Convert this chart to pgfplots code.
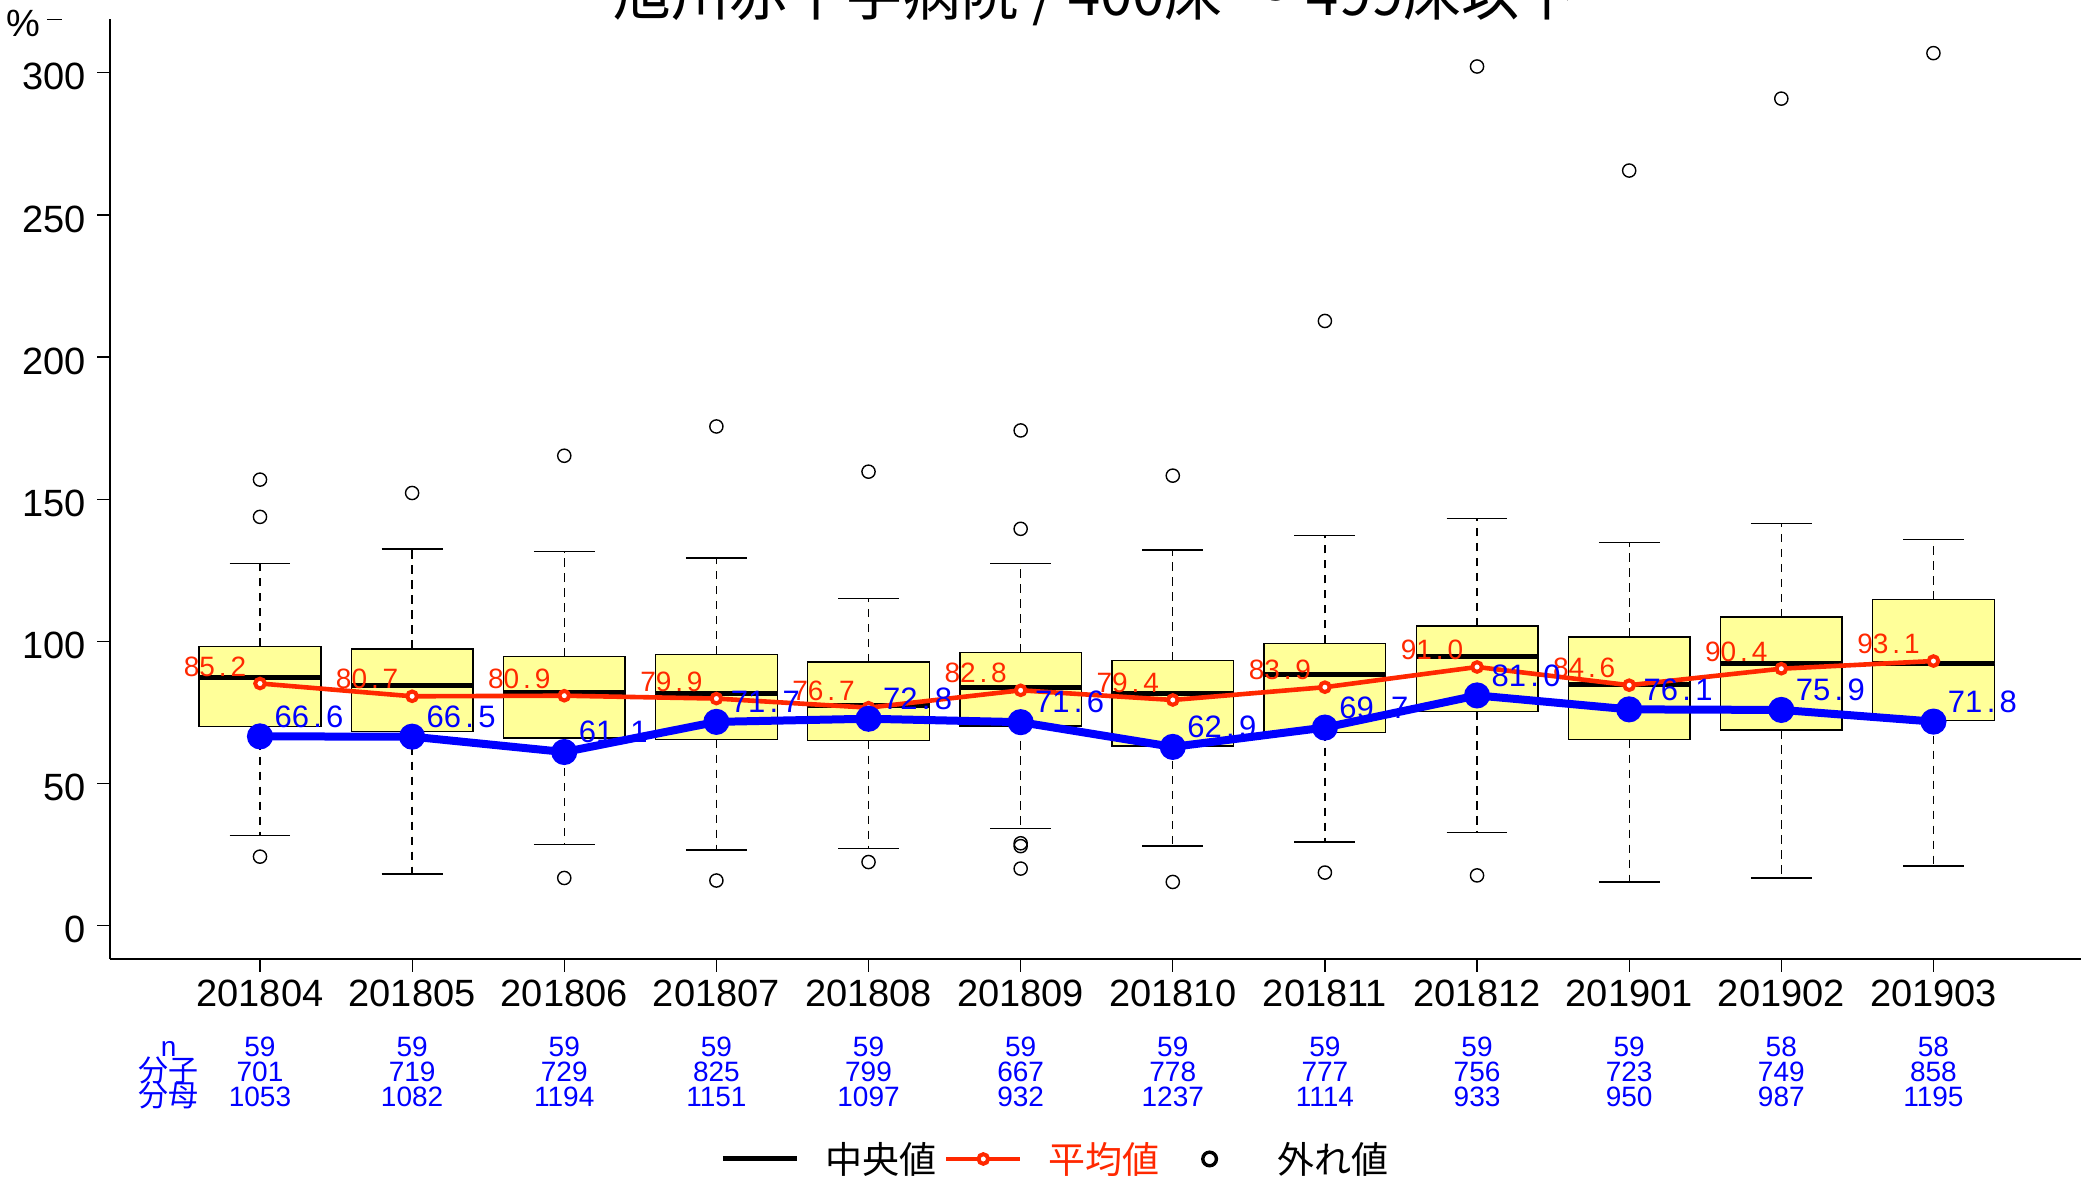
\documentclass[border=0pt]{standalone}
\usepackage{pgfplots}
\pgfplotsset{compat=1.18}
\usepgfplotslibrary{statistics}
\usepackage{fontspec}
\setmainfont{Liberation Sans}
\newfontfamily\jp{Noto Sans CJK JP}
\definecolor{myred}{RGB}{255,40,0}
\definecolor{myblue}{RGB}{0,0,255}
\definecolor{boxyellow}{RGB}{255,255,153}
\newcommand{\dg}[2]{#1\makebox[0.556em]{.}#2}
\newcommand{\tblfont}{\fontsize{14}{14}\selectfont}
\newcommand{\tcol}[4]{%
 \node[font=\tblfont, text=myblue, anchor=base, inner sep=0pt] at (axis cs:#1,-11.7) [yshift=-48.9pt] {#2};
 \node[font=\tblfont, text=myblue, anchor=base, inner sep=0pt] at (axis cs:#1,-11.7) [yshift=-61.4pt] {#3};
 \node[font=\tblfont, text=myblue, anchor=base, inner sep=0pt] at (axis cs:#1,-11.7) [yshift=-73.9pt] {#4};
}
\pgfplotsset{
 rbox/.style={
   boxplot/draw direction=y,
   draw=black, fill=boxyellow, line width=0.7pt, solid, forget plot,
   mark=o, mark size=3.3pt, mark options={solid, line width=0.7pt, draw=black, fill=none},
   boxplot/every median/.style={line width=2.5pt},
   boxplot/draw/lower whisker/.code={%
     \draw[line width=0.65pt, dash pattern=on 4.2pt off 3.3pt]
       (boxplot box cs:\pgfplotsboxplotvalue{lower quartile},0.5) --
       (boxplot box cs:\pgfplotsboxplotvalue{lower whisker},0.5);
     \draw[line width=0.65pt, solid]
       (boxplot whisker cs:\pgfplotsboxplotvalue{lower whisker},0) --
       (boxplot whisker cs:\pgfplotsboxplotvalue{lower whisker},1);
   },
   boxplot/draw/upper whisker/.code={%
     \draw[line width=0.65pt, dash pattern=on 4.2pt off 3.3pt]
       (boxplot box cs:\pgfplotsboxplotvalue{upper quartile},0.5) --
       (boxplot box cs:\pgfplotsboxplotvalue{upper whisker},0.5);
     \draw[line width=0.65pt, solid]
       (boxplot whisker cs:\pgfplotsboxplotvalue{upper whisker},0) --
       (boxplot whisker cs:\pgfplotsboxplotvalue{upper whisker},1);
   },
 },
}
\newcommand{\bx}[6]{%
 \addplot[rbox, boxplot prepared={draw position=#1, lower whisker=#2, lower quartile=#3, median=#4, upper quartile=#5, upper whisker=#6, box extend=0.8, whisker extend=0.4}]
}
\begin{document}
\begin{tikzpicture}
\begin{axis}[
  at={(0,0)}, anchor=south west,
  scale only axis, width=985.5pt, height=469.85pt,
  xmin=-0.986, xmax=11.97, ymin=-11.7, ymax=318.8,
  clip=false,
  axis x line*=bottom, axis y line*=left,
  axis line style={black, line width=0.8pt, -},
  tick align=outside, major tick length=6.3pt,
  tick style={black, line width=0.6pt},
  xtick={0,1,2,3,4,5,6,7,8,9,10,11},
  xticklabels={201804,201805,201806,201807,201808,201809,201810,201811,201812,201901,201902,201903},
  ytick={0,50,100,150,200,250,300},
  /pgf/number format/assume math mode=true,
  xticklabel style={font=\fontsize{19}{20}\selectfont, inner sep=0pt, yshift=-4.2pt},
  yticklabel style={font=\fontsize{19}{20}\selectfont, inner sep=0pt, xshift=-5.7pt, yshift=-2pt},
  legend columns=3,
  legend cell align=left,
  legend style={at={(0.3095,-0.2128)}, anchor=west, draw=none, fill=none, inner sep=0pt,
    nodes={inner sep=0pt, font=\jp\fontsize{18.5}{20}\selectfont},
    /tikz/every odd column/.append style={column sep=13pt},
    /tikz/every even column/.append style={column sep=3.8pt}},
]
\addlegendimage{legend image code/.code={\draw[black, line width=2.5pt] (0pt,0pt) -- (37pt,0pt);}}
\addlegendentry{中央値}
\addlegendimage{legend image code/.code={\draw[myred, line width=2.3pt] (0pt,0pt) -- (37pt,0pt); \draw[myred, line width=2pt, fill=white] (18.5pt,0pt) circle (2.4pt);}}
\addlegendentry{\textcolor{myred}{平均値}}
\addlegendimage{legend image code/.code={\path[draw=none, fill=none] (0pt,0pt) -- (42.3pt,0pt); \draw[black, line width=1.7pt, fill=none] (21.2pt,0pt) circle (3.4pt);}}
\addlegendentry{外れ値}

\bx{0}{31.8}{70.0}{87.3}{98.3}{127.4} coordinates {(0,156.9) (0,143.8) (0,24.3)};
\bx{1}{18.2}{68.3}{84.5}{97.4}{132.5} coordinates {(1,152.2)};
\bx{2}{28.5}{66.0}{82.2}{94.6}{131.6} coordinates {(2,165.3) (2,16.8)};
\bx{3}{26.6}{65.5}{81.6}{95.5}{129.3} coordinates {(3,175.6) (3,15.9)};
\bx{4}{27.1}{65.1}{77.4}{92.7}{115.2} coordinates {(4,159.7) (4,22.4)};
\bx{5}{34.1}{70.2}{83.7}{96.0}{127.4} coordinates {(5,174.2) (5,139.6) (5,29.0) (5,28.0) (5,20.1)};
\bx{6}{28.0}{63.2}{81.8}{93.2}{132.1} coordinates {(6,158.3) (6,15.4)};
\bx{7}{29.4}{67.9}{88.5}{99.3}{137.2} coordinates {(7,212.7) (7,18.7)};
\bx{8}{32.7}{75.4}{94.8}{105.4}{143.3} coordinates {(8,302.2) (8,17.7)};
\bx{9}{15.4}{65.5}{84.7}{101.6}{134.9} coordinates {(9,265.6)};
\bx{10}{16.8}{68.8}{92.1}{108.6}{141.4} coordinates {(10,290.9)};
\bx{11}{21.0}{72.1}{92.2}{114.7}{135.8} coordinates {(11,306.9)};

\addplot[myred, line width=2.3pt, forget plot, mark=*, mark size=2.4pt,
  mark options={fill=white, draw=myred, line width=2pt},
  nodes near coords, point meta=explicit symbolic,
  nodes near coords style={font=\fontsize{14}{14}\selectfont, text=myred, anchor=center, xshift=-22.5pt, yshift=8.5pt}]
coordinates {(0,85.2)[\dg{85}{2}] (1,80.7)[\dg{80}{7}] (2,80.9)[\dg{80}{9}] (3,79.9)[\dg{79}{9}]
 (4,76.7)[\dg{76}{7}] (5,82.8)[\dg{82}{8}] (6,79.4)[\dg{79}{4}] (7,83.9)[\dg{83}{9}]
 (8,91.0)[\dg{91}{0}] (9,84.6)[\dg{84}{6}] (10,90.4)[\dg{90}{4}] (11,93.1)[\dg{93}{1}]};

\addplot[myblue, line width=4pt, forget plot, mark=*, mark size=4.5pt,
  mark options={fill=myblue, draw=none},
  nodes near coords, point meta=explicit symbolic,
  nodes near coords style={font=\fontsize{15.5}{16}\selectfont, text=myblue, anchor=center, xshift=24.5pt, yshift=10pt}]
coordinates {(0,66.6)[\dg{66}{6}] (1,66.5)[\dg{66}{5}] (2,61.1)[\dg{61}{1}] (3,71.7)[\dg{71}{7}]
 (4,72.8)[\dg{72}{8}] (5,71.6)[\dg{71}{6}] (6,62.9)[\dg{62}{9}] (7,69.7)[\dg{69}{7}]
 (8,81.0)[\dg{81}{0}] (9,76.1)[\dg{76}{1}] (10,75.9)[\dg{75}{9}] (11,71.8)[\dg{71}{8}]};

\tcol{0}{59}{701}{1053}
\tcol{1}{59}{719}{1082}
\tcol{2}{59}{729}{1194}
\tcol{3}{59}{825}{1151}
\tcol{4}{59}{799}{1097}
\tcol{5}{59}{667}{932}
\tcol{6}{59}{778}{1237}
\tcol{7}{59}{777}{1114}
\tcol{8}{59}{756}{933}
\tcol{9}{59}{723}{950}
\tcol{10}{58}{749}{987}
\tcol{11}{58}{858}{1195}
\node[font=\tblfont, text=myblue, anchor=base, inner sep=0pt] at (axis cs:-0.6,-11.7) [yshift=-48.9pt] {n};
\node[font=\jp\fontsize{15}{15}\selectfont, text=myblue, anchor=base, inner sep=0pt] at (axis cs:-0.6,-11.7) [yshift=-61.4pt] {分子};
\node[font=\jp\fontsize{15}{15}\selectfont, text=myblue, anchor=base, inner sep=0pt] at (axis cs:-0.6,-11.7) [yshift=-73.9pt] {分母};

\node[font=\jp\fontsize{29}{30}\selectfont, anchor=base, inner sep=0pt] at (rel axis cs:0.5,1) [yshift=2pt] {旭川赤十字病院 / 400床 ～ 499床以下};
\node[font=\fontsize{19}{20}\selectfont, anchor=center, inner sep=0pt] at (rel axis cs:0,1) [xshift=-43.5pt, yshift=-2.3pt] {\%};
\draw[line width=0.7pt] ([xshift=-31.5pt]rel axis cs:0,1) -- ([xshift=-24pt]rel axis cs:0,1);
\end{axis}
\pgfresetboundingbox
\useasboundingbox (-55pt,-110.5pt) rectangle (989.5pt,479.5pt);
\end{tikzpicture}
\end{document}
